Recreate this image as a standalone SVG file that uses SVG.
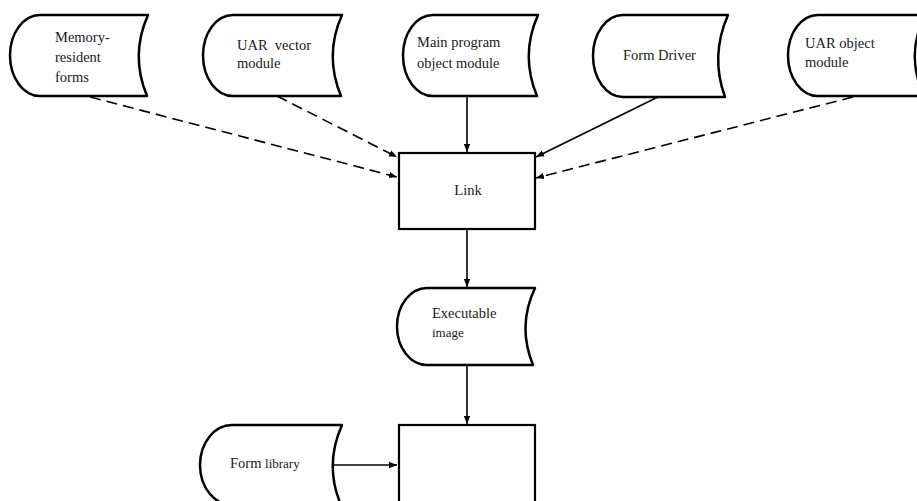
<svg xmlns="http://www.w3.org/2000/svg" width="917" height="501" viewBox="0 0 917 501">
<defs>
<style>
.shape{fill:#fff;stroke:#000;stroke-width:2.5;stroke-linejoin:round}
.box{fill:#fff;stroke:#000;stroke-width:2.2}
.t{font-size:14.5px;fill:#1a1a1a}
.s{font-size:13px}
.ln{fill:none;stroke:#000;stroke-width:1.6}
.d{stroke-dasharray:11 6}
</style>
<marker id="ah" viewBox="0 0 10 10" refX="10" refY="5" markerWidth="8" markerHeight="8" markerUnits="userSpaceOnUse" orient="auto">
<path d="M0,1 L10,5 L0,9 Z" fill="#000"/>
</marker>
</defs>
<rect width="917" height="501" fill="#fff"/>

<g id="connectors">
<path class="ln d" d="M90,97 L397,177" marker-end="url(#ah)"/>
<path class="ln d" d="M277,96 L397,157" marker-end="url(#ah)"/>
<path class="ln" d="M467,96 L467,152" marker-end="url(#ah)"/>
<path class="ln" d="M660,96 L536,157" marker-end="url(#ah)"/>
<path class="ln d" d="M853,97 L536,178" marker-end="url(#ah)"/>
<path class="ln" d="M467,230 L467,287" marker-end="url(#ah)"/>
<path class="ln" d="M467,366 L467,424" marker-end="url(#ah)"/>
<path class="ln" d="M334,465 L397,465" marker-end="url(#ah)"/>
</g>

<g font-family="'Liberation Serif', 'Times New Roman', 'DejaVu Serif', serif">
<g id="memory-resident-forms">
<path class="shape" d="M40,15 L148,15 Q130,55 147,96 L40,96 A30,40.5 0 0 1 40,15 Z"/>
<text class="t" x="55" y="42">Memory-</text>
<text class="t" x="55" y="62">resident</text>
<text class="t" x="55" y="82">forms</text>
</g>

<g id="uar-vector-module">
<path class="shape" d="M233,15 L342,15 Q324,55 341,96 L233,96 A30,40.5 0 0 1 233,15 Z"/>
<text class="t" x="237" y="50" xml:space="preserve">UAR  vector</text>
<text class="t" x="237" y="68">module</text>
</g>

<g id="main-program-object-module">
<path class="shape" d="M433,15 L538,15 Q520,55 537,96 L433,96 A30,40.5 0 0 1 433,15 Z"/>
<text class="t" x="417" y="47">Main program</text>
<text class="t" x="417" y="68">object module</text>
</g>

<g id="form-driver">
<path class="shape" d="M623,15 L728,15 Q710,56 725,97 L623,97 A30,41 0 0 1 623,15 Z"/>
<text class="t" x="623" y="60">Form Driver</text>
</g>

<g id="uar-object-module">
<path class="shape" d="M818,15 L925,15 Q905,55 924,96 L818,96 A30,40.5 0 0 1 818,15 Z"/>
<text class="t" x="805" y="48">UAR object</text>
<text class="t" x="805" y="67">module</text>
</g>

<g id="link">
<rect class="box" x="399" y="153" width="136" height="76"/>
<text class="t" x="468" y="195" text-anchor="middle">Link</text>
</g>

<g id="executable-image">
<path class="shape" d="M427,288 L535,288 Q517,326 533,365 L427,365 A30,38.5 0 0 1 427,288 Z"/>
<text class="t" x="432" y="318">Executable</text>
<text class="t s" x="432" y="337">image</text>
</g>

<g id="form-library">
<path class="shape" d="M232,425 L342,425 Q324,465 341,505 L232,505 A32,40 0 0 1 232,425 Z"/>
<text class="t" x="230" y="468">Form <tspan class="s">library</tspan></text>
</g>

<g id="process-box">
<rect class="box" x="399" y="425" width="136" height="82"/>
</g>
</g>
</svg>
